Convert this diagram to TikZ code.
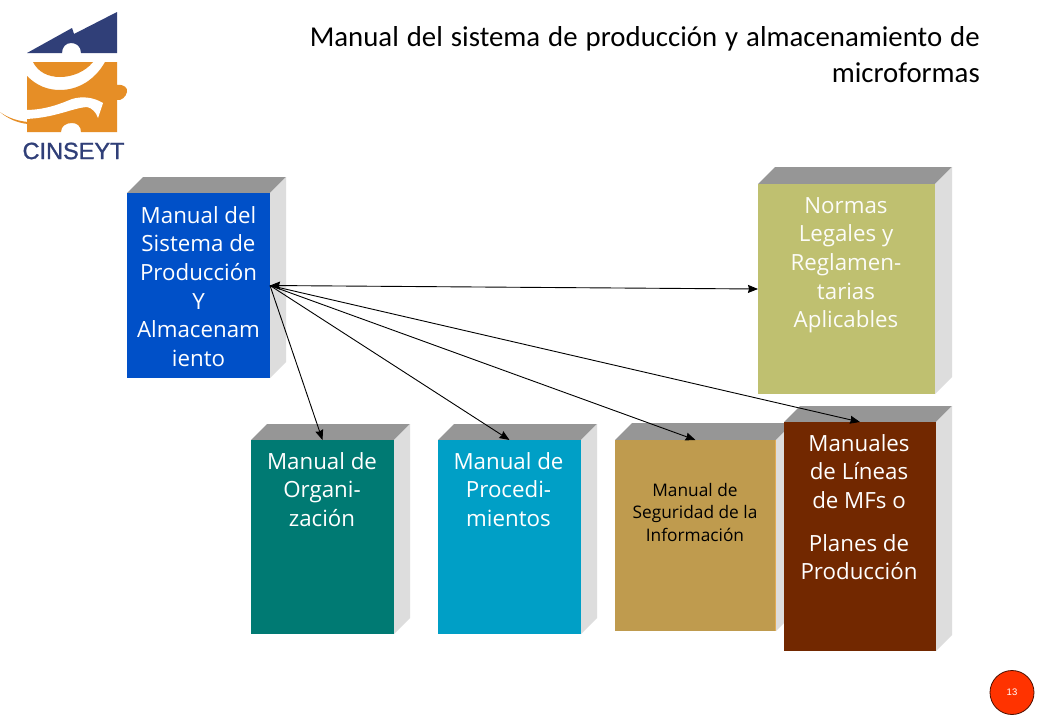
\documentclass[tikz,border=0pt]{standalone}
\usepackage{fontspec}
\setmainfont{Open Sans}
\newfontfamily\titlefont{Carlito}
\newfontfamily\brandfont[FakeBold=1.2]{Liberation Sans}
\usetikzlibrary{arrows.meta}
\definecolor{cblue}{HTML}{0050C8}
\definecolor{cteal}{HTML}{007A73}
\definecolor{ccyan}{HTML}{009FC6}
\definecolor{cgold}{HTML}{BF9B4E}
\definecolor{cgoldedge}{HTML}{E2AC55}
\definecolor{cbrown}{HTML}{722800}
\definecolor{colive}{HTML}{BFC070}
\definecolor{ctop}{HTML}{969696}
\definecolor{cside}{HTML}{DDDDDD}
\definecolor{navy}{HTML}{303F78}
\definecolor{lorange}{HTML}{E68E26}
\definecolor{cred}{HTML}{FF3300}
\tikzset{
  face/.style={rectangle,inner sep=0pt,outer sep=0pt,anchor=north west},
  label text/.style={align=center,text=white,font=\fontsize{22.3}{28.7}\selectfont,anchor=north,inner sep=0pt},
  link/.style={-{Stealth[length=10pt,width=8pt,inset=1pt]},black,line width=0.9pt},
  dlink/.style={{Stealth[length=10pt,width=8pt,inset=1pt]}-{Stealth[length=10pt,width=8pt,inset=1pt]},black,line width=0.9pt}
}
% name, x, y, w, h, depth, colour
\newcommand{\slab}[7]{%
  \fill[ctop] (#2,#3) -- ++(#6,-#6) -- ++(#4,0) -- ++(-#6,#6) -- cycle;
  \fill[cside] (#2+#4,#3) -- ++(#6,-#6) -- ++(0,#5) -- ++(-#6,#6) -- cycle;
  \node[face,fill=#7,minimum width=#4pt,minimum height=#5pt] (#1) at (#2,#3) {};
}
\begin{document}
\begin{tikzpicture}[x=1pt,y=-1pt]
\useasboundingbox (0,0) rectangle (1040,720);
\fill[white] (0,0) rectangle (1040,720);
% logo
\fill[navy] (27,53) -- (72,28) -- (74,34) -- (117,12) -- (117,53) -- (81,53)
  .. controls (81,46) and (76,43) .. (71,43) .. controls (66,43) and (62,47) .. (62,53) -- cycle;
\fill[lorange] (33,62) -- (93,62) .. controls (85,72) and (72,77) .. (60,77) .. controls (48,77) and (38,72) .. (33,62) -- cycle;
\fill[lorange] (27,76) .. controls (37,86) and (48,90) .. (60,90) .. controls (78,90) and (95,80) .. (105,62) -- (117,62) -- (117,85)
  .. controls (124,84) and (128,88) .. (127,92) .. controls (126,97) and (121,101) .. (117,100)
  -- (117,132) -- (81,132) .. controls (81,126) and (77,123) .. (72,123) .. controls (66,123) and (61,126) .. (61,132) -- (27,132) -- cycle;
\fill[white] (25,110) .. controls (45,110) and (60,104) .. (72,99) .. controls (82,96) and (93,97) .. (103,103)
  -- (98,118) .. controls (96,112) and (92,108) .. (87,107) .. controls (72,108) and (55,118) .. (25,119) -- cycle;
\fill[lorange] (0,112) .. controls (8,118) and (18,121) .. (28,122) -- (28,124) .. controls (18,123) and (8,119) .. (0,112) -- cycle;
\node[inner sep=0pt,text=navy] (brand) at (73.5,151) {\fontsize{23.5}{24}\selectfont\brandfont CINSEYT};
% title
\node[inner sep=0pt,anchor=north east,align=right,font=\fontsize{28.8}{36}\selectfont\titlefont] (title) at (980,26.5)
  {\makebox[670pt][s]{Manual del sistema de producción y almacenamiento de}\\microformas};
% boxes
\slab{normas}{758}{184}{177}{210}{17}{colive}
\slab{manual}{127}{193}{143}{185}{16}{cblue}
\slab{org}{251}{440}{143}{194}{16}{cteal}
\slab{proc}{438}{440}{143}{194}{16}{ccyan}
\slab{seg}{615}{440}{161}{191}{17}{cgold}
\slab{lineas}{784}{422}{152}{229}{16}{cbrown}
\draw[cgoldedge,line width=1.5pt] (seg.north east) ++(-0.75,0) -- ([xshift=-0.75pt]seg.south east);
% connectors
\draw[dlink] (manual.east) -- (normas.west);
\draw[link] (manual.east) -- (org.north);
\draw[link] (manual.east) -- (proc.north);
\draw[link] (manual.east) -- (seg.north);
\draw[link] (manual.east) -- (lineas.north);
% labels
\node[label text] (t1) at (198.5,206) {Manual del\\Sistema de\\Producción\\Y\\Almacenam\\iento};
\node[label text,text=white!95!colive] (t2) at (846,197) {Normas\\Legales y\\Reglamen-\\tarias\\Aplicables};
\node[label text] (t3) at (322,452) {Manual de\\Organi-\\zación};
\node[label text] (t4) at (508.5,452) {Manual de\\Procedi-\\mientos};
\node[label text,text=black,font=\fontsize{17.3}{22.5}\selectfont] (t5) at (695,483) {Manual de\\Seguridad de la\\Información};
\node[label text] (t6) at (859,434) {Manuales\\de Líneas\\de MFs o\\[14pt]Planes de\\Producción};
% page number
\node[circle,fill=cred,draw=black!70!cred,line width=0.8pt,minimum size=44pt,inner sep=0pt,text=white,font=\fontsize{9.5}{10}\selectfont\fontspec{Liberation Sans}] (page) at (1012,692.5) {13};
\end{tikzpicture}
\end{document}
